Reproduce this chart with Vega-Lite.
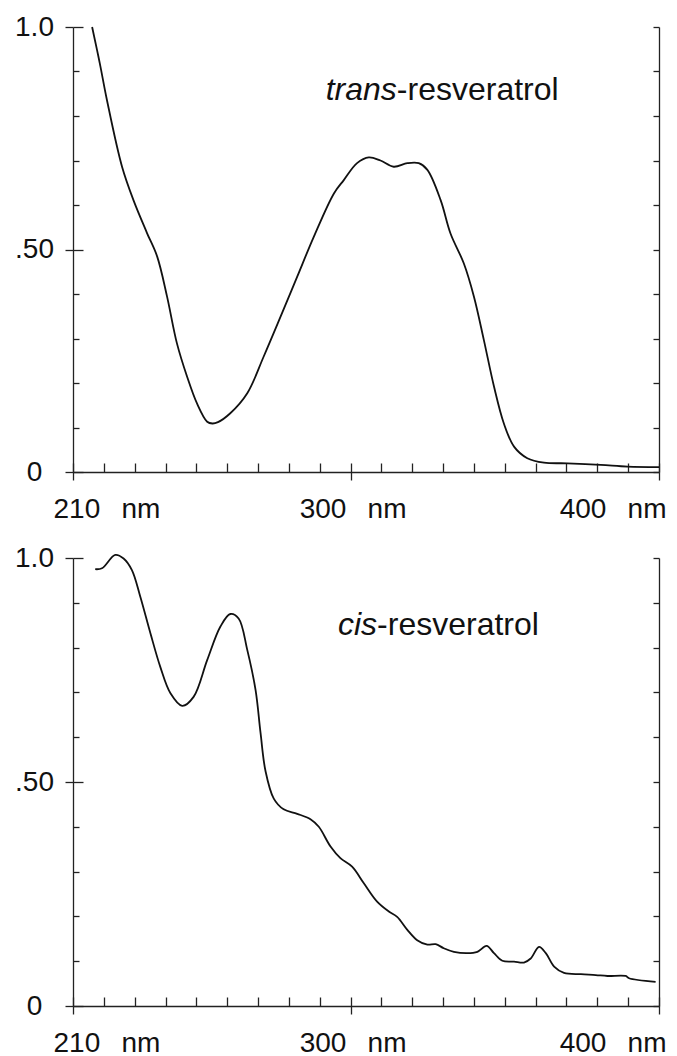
{
  "$schema": "https://vega.github.io/schema/vega-lite/v6.json",
  "padding": {"left": 14, "top": 13, "right": 5, "bottom": 5},
  "background": "white",
  "config": {
    "view": {"stroke": null},
    "axis": {"grid": false, "domainColor": "#222", "tickColor": "#222", "labelColor": "#111", "labelFont": "Liberation Sans", "labelFontSize": 28, "domainWidth": 1.3, "tickWidth": 1.3, "labelFlush": false, "labelOverlap": false, "labelBound": false}
  },
  "datasets": {
    "trans": [
      {"nm": 216.2, "a": 1.0}, {"nm": 217.8, "a": 0.948}, {"nm": 218.9, "a": 0.911}, {"nm": 221.0, "a": 0.836},
      {"nm": 225.9, "a": 0.686}, {"nm": 229.6, "a": 0.611}, {"nm": 234.0, "a": 0.537}, {"nm": 237.3, "a": 0.484},
      {"nm": 240.5, "a": 0.394}, {"nm": 243.7, "a": 0.289}, {"nm": 247.0, "a": 0.214}, {"nm": 250.2, "a": 0.154},
      {"nm": 253.5, "a": 0.113}, {"nm": 255.2, "a": 0.109}, {"nm": 257.0, "a": 0.112}, {"nm": 261.0, "a": 0.132}, {"nm": 266.5, "a": 0.177},
      {"nm": 271.8, "a": 0.259}, {"nm": 277.3, "a": 0.349}, {"nm": 282.7, "a": 0.439}, {"nm": 288.1, "a": 0.529},
      {"nm": 294.6, "a": 0.626}, {"nm": 297.8, "a": 0.656}, {"nm": 302.1, "a": 0.694}, {"nm": 305.9, "a": 0.707},
      {"nm": 309.7, "a": 0.7}, {"nm": 314.0, "a": 0.686}, {"nm": 318.4, "a": 0.694}, {"nm": 322.1, "a": 0.694},
      {"nm": 324.9, "a": 0.679}, {"nm": 329.2, "a": 0.611}, {"nm": 332.4, "a": 0.536}, {"nm": 336.7, "a": 0.469},
      {"nm": 340.0, "a": 0.394}, {"nm": 343.2, "a": 0.297}, {"nm": 346.5, "a": 0.192}, {"nm": 349.7, "a": 0.109},
      {"nm": 353.0, "a": 0.057}, {"nm": 357.3, "a": 0.031}, {"nm": 362.7, "a": 0.021}, {"nm": 370.3, "a": 0.0195},
      {"nm": 381.1, "a": 0.016}, {"nm": 389.8, "a": 0.012}, {"nm": 400.0, "a": 0.011}
    ],
    "cis": [
      {"nm": 217.2, "a": 0.975}, {"nm": 219.4, "a": 0.977}, {"nm": 223.7, "a": 1.007}, {"nm": 226.4, "a": 0.999},
      {"nm": 229.1, "a": 0.973}, {"nm": 231.8, "a": 0.914}, {"nm": 235.1, "a": 0.832}, {"nm": 238.3, "a": 0.757},
      {"nm": 241.6, "a": 0.698}, {"nm": 245.4, "a": 0.67}, {"nm": 249.1, "a": 0.69}, {"nm": 253.5, "a": 0.772},
      {"nm": 257.8, "a": 0.847}, {"nm": 261.0, "a": 0.875}, {"nm": 263.7, "a": 0.865}, {"nm": 266.5, "a": 0.795},
      {"nm": 269.2, "a": 0.705}, {"nm": 270.8, "a": 0.61}, {"nm": 272.4, "a": 0.525}, {"nm": 275.1, "a": 0.463},
      {"nm": 278.3, "a": 0.439}, {"nm": 282.7, "a": 0.429}, {"nm": 287.0, "a": 0.417}, {"nm": 289.7, "a": 0.4},
      {"nm": 293.5, "a": 0.356}, {"nm": 296.7, "a": 0.33}, {"nm": 300.5, "a": 0.311}, {"nm": 304.3, "a": 0.274},
      {"nm": 308.6, "a": 0.233}, {"nm": 312.4, "a": 0.211}, {"nm": 315.1, "a": 0.199}, {"nm": 318.4, "a": 0.17},
      {"nm": 321.6, "a": 0.147}, {"nm": 324.9, "a": 0.137}, {"nm": 327.6, "a": 0.138}, {"nm": 330.2, "a": 0.129},
      {"nm": 333.5, "a": 0.121}, {"nm": 337.8, "a": 0.118}, {"nm": 341.1, "a": 0.121}, {"nm": 344.1, "a": 0.134},
      {"nm": 346.5, "a": 0.118}, {"nm": 349.2, "a": 0.101}, {"nm": 353.0, "a": 0.099}, {"nm": 356.2, "a": 0.097},
      {"nm": 358.4, "a": 0.106}, {"nm": 361.1, "a": 0.132}, {"nm": 363.3, "a": 0.118}, {"nm": 366.0, "a": 0.088},
      {"nm": 369.2, "a": 0.074}, {"nm": 374.7, "a": 0.071}, {"nm": 379.5, "a": 0.069}, {"nm": 383.3, "a": 0.067},
      {"nm": 389.2, "a": 0.067}, {"nm": 390.3, "a": 0.062}, {"nm": 398.9, "a": 0.054}
    ]
  },
  "spacing": 86,
  "bounds": "flush",
  "vconcat": [
    {
      "width": 586,
      "height": 445,
      "data": {"name": "trans"},
      "layer": [
        {
          "mark": {"type": "line", "color": "#111", "strokeWidth": 1.8, "interpolate": "catmull-rom"},
          "encoding": {
            "x": {"field": "nm", "type": "quantitative", "title": null, "scale": {"domain": [210, 400], "nice": false, "zero": false},
              "axis": {"orient": "bottom", "values": [210,220,230,240,250,260,270,280,290,300,310,320,330,340,350,360,370,380,390,400], "tickSize": -9, "labels": false, "domain": true}},
            "y": {"field": "a", "type": "quantitative", "title": null, "scale": {"domain": [0, 1], "nice": false},
              "axis": {"orient": "left", "values": [0,0.1,0.2,0.3,0.4,0.5,0.6,0.7,0.8,0.9,1], "tickSize": {"condition": {"test": "datum.value == 0 || datum.value == 0.5 || datum.value == 1", "value": -10}, "value": -6}, "labels": false, "domain": true}}
          }
        },
        {
          "mark": {"type": "line", "opacity": 0},
          "encoding": {
            "x": {"field": "nm", "type": "quantitative", "title": null, "scale": {"domain": [210, 400], "nice": false, "zero": false},
              "axis": {"orient": "bottom", "values": [210, 300, 400], "tickSize": 8, "domain": false, "labelExpr": "datum.value + '\u00a0\u00a0\u2009nm'", "labelBaseline": "top", "labelPadding": 15,
                "labelAlign": {"condition": [{"test": "datum.value == 210", "value": "left"}, {"test": "datum.value == 400", "value": "right"}], "value": "center"},
                "labelOffset": {"condition": [{"test": "datum.value == 210", "value": -20}, {"test": "datum.value == 400", "value": 7}], "value": 2}}},
            "y": {"field": "a", "type": "quantitative", "title": null, "scale": {"domain": [0, 1], "nice": false},
              "axis": {"orient": "left", "values": [0, 0.5, 1], "tickSize": 8, "domain": false, "labelExpr": "datum.value == 1 ? '1.0' : datum.value == 0.5 ? '.50' : '0'", "labelAlign": "center", "labelBaseline": "middle", "labelPadding": 31}}
          }
        },
        {
          "mark": {"type": "line", "opacity": 0},
          "encoding": {
            "x": {"field": "nm", "type": "quantitative", "title": null, "scale": {"domain": [210, 400], "nice": false, "zero": false}, "axis": null},
            "y": {"field": "a", "type": "quantitative", "title": null, "scale": {"domain": [0, 1], "nice": false},
              "axis": {"orient": "right", "values": [0,0.1,0.2,0.3,0.4,0.5,0.6,0.7,0.8,0.9,1], "tickSize": -6, "labels": false, "domain": true}}
          }
        },
        {
          "data": {"values": [{}]},
          "mark": {"type": "text", "font": "Liberation Sans", "fontSize": 32, "fontStyle": "italic", "align": "right", "baseline": "alphabetic", "color": "#111", "text": "trans"},
          "encoding": {"x": {"datum": 315, "type": "quantitative", "axis": null}, "y": {"datum": 0.836, "type": "quantitative", "axis": null}}
        },
        {
          "data": {"values": [{}]},
          "mark": {"type": "text", "font": "Liberation Sans", "fontSize": 32, "align": "left", "baseline": "alphabetic", "color": "#111", "text": "-resveratrol"},
          "encoding": {"x": {"datum": 315, "type": "quantitative", "axis": null}, "y": {"datum": 0.836, "type": "quantitative", "axis": null}}
        }
      ],
      "resolve": {"axis": {"x": "independent", "y": "independent"}}
    },
    {
      "width": 586,
      "height": 448,
      "data": {"name": "cis"},
      "layer": [
        {
          "mark": {"type": "line", "color": "#111", "strokeWidth": 1.8, "interpolate": "catmull-rom"},
          "encoding": {
            "x": {"field": "nm", "type": "quantitative", "title": null, "scale": {"domain": [210, 400], "nice": false, "zero": false},
              "axis": {"orient": "bottom", "values": [210,220,230,240,250,260,270,280,290,300,310,320,330,340,350,360,370,380,390,400], "tickSize": -9, "labels": false, "domain": true}},
            "y": {"field": "a", "type": "quantitative", "title": null, "scale": {"domain": [0, 1], "nice": false},
              "axis": {"orient": "left", "values": [0,0.1,0.2,0.3,0.4,0.5,0.6,0.7,0.8,0.9,1], "tickSize": {"condition": {"test": "datum.value == 0 || datum.value == 0.5 || datum.value == 1", "value": -10}, "value": -6}, "labels": false, "domain": true}}
          }
        },
        {
          "mark": {"type": "line", "opacity": 0},
          "encoding": {
            "x": {"field": "nm", "type": "quantitative", "title": null, "scale": {"domain": [210, 400], "nice": false, "zero": false},
              "axis": {"orient": "bottom", "values": [210, 300, 400], "tickSize": 8, "domain": false, "labelExpr": "datum.value + '\u00a0\u00a0\u2009nm'", "labelBaseline": "top", "labelPadding": 15,
                "labelAlign": {"condition": [{"test": "datum.value == 210", "value": "left"}, {"test": "datum.value == 400", "value": "right"}], "value": "center"},
                "labelOffset": {"condition": [{"test": "datum.value == 210", "value": -20}, {"test": "datum.value == 400", "value": 7}], "value": 2}}},
            "y": {"field": "a", "type": "quantitative", "title": null, "scale": {"domain": [0, 1], "nice": false},
              "axis": {"orient": "left", "values": [0, 0.5, 1], "tickSize": 8, "domain": false, "labelExpr": "datum.value == 1 ? '1.0' : datum.value == 0.5 ? '.50' : '0'", "labelAlign": "center", "labelBaseline": "middle", "labelPadding": 31}}
          }
        },
        {
          "mark": {"type": "line", "opacity": 0},
          "encoding": {
            "x": {"field": "nm", "type": "quantitative", "title": null, "scale": {"domain": [210, 400], "nice": false, "zero": false}, "axis": null},
            "y": {"field": "a", "type": "quantitative", "title": null, "scale": {"domain": [0, 1], "nice": false},
              "axis": {"orient": "right", "values": [0,0.1,0.2,0.3,0.4,0.5,0.6,0.7,0.8,0.9,1], "tickSize": -6, "labels": false, "domain": true}}
          }
        },
        {
          "data": {"values": [{}]},
          "mark": {"type": "text", "font": "Liberation Sans", "fontSize": 32, "fontStyle": "italic", "align": "right", "baseline": "alphabetic", "color": "#111", "text": "cis"},
          "encoding": {"x": {"datum": 308.6, "type": "quantitative", "axis": null}, "y": {"datum": 0.828, "type": "quantitative", "axis": null}}
        },
        {
          "data": {"values": [{}]},
          "mark": {"type": "text", "font": "Liberation Sans", "fontSize": 32, "align": "left", "baseline": "alphabetic", "color": "#111", "text": "-resveratrol"},
          "encoding": {"x": {"datum": 308.6, "type": "quantitative", "axis": null}, "y": {"datum": 0.828, "type": "quantitative", "axis": null}}
        }
      ],
      "resolve": {"axis": {"x": "independent", "y": "independent"}}
    }
  ]
}
